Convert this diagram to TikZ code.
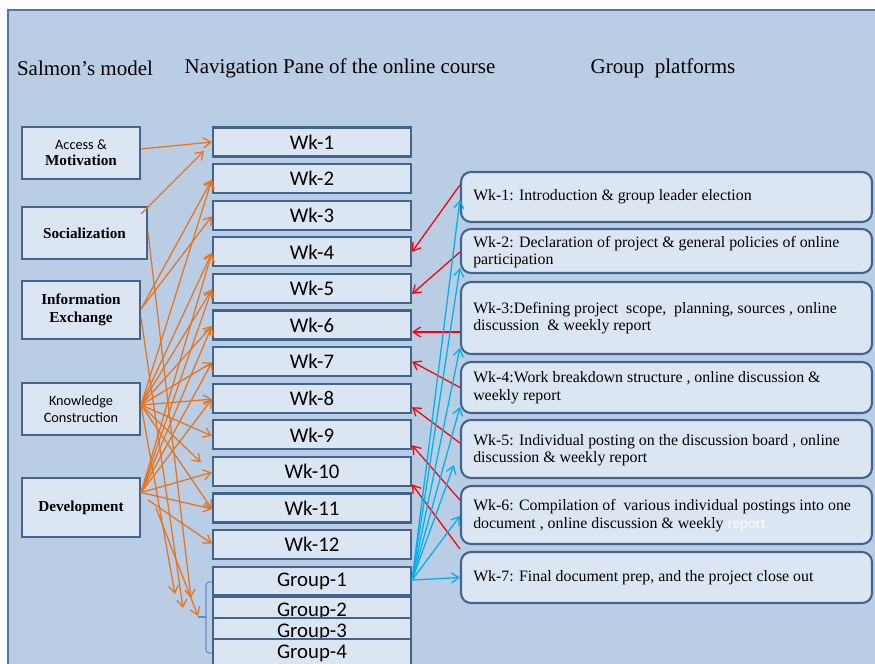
\documentclass[tikz,border=0pt]{standalone}
\usepackage{fontspec}
\setmainfont{Liberation Serif}
\newfontfamily\calib{Carlito}
\usetikzlibrary{arrows.meta,calc}
\definecolor{bg}{HTML}{B9CDE5}
\definecolor{boxfill}{HTML}{DCE6F2}
\definecolor{boxline}{HTML}{41658F}
\definecolor{orng}{HTML}{E8741E}
\definecolor{cyanarr}{HTML}{00B0F0}
\definecolor{brk}{HTML}{5F8FCB}
\definecolor{frame}{HTML}{4F76A8}
\begin{document}
\begin{tikzpicture}[x=0.75pt,y=-0.75pt,
  wkbox/.style={draw=boxline,fill=boxfill,line width=1.6pt,minimum width=148.5pt,minimum height=21.75pt,inner sep=0pt,font=\calib\fontsize{15.6}{18}\selectfont},
  grpbox/.style={wkbox,minimum height=21pt},
  lbox/.style={draw=boxline,fill=boxfill,line width=1.6pt,minimum width=88.5pt,minimum height=39pt,inner sep=0pt,align=center},
  rbox/.style={draw=boxline,fill=boxfill,line width=1.6pt,rounded corners=7.5pt,minimum width=308.25pt,inner sep=0pt},
  rtext/.style={anchor=west,align=left,inner sep=0pt,font=\fontsize{11.9}{13.1}\selectfont},
  serl/.style={font=\bfseries\fontsize{11.4}{13.5}\selectfont},
  hdr/.style={font=\fontsize{15.75}{18}\selectfont,inner sep=0pt},
  oarr/.style={draw=orng,line width=0.95pt,-{Straight Barb[length=5.5pt,width=7.5pt]}},
  rarr/.style={draw=red,line width=0.95pt,-{Straight Barb[length=5.5pt,width=7.5pt]}},
  barr/.style={draw=cyanarr,line width=0.95pt,-{Straight Barb[length=5.5pt,width=7.5pt]}}
]
\useasboundingbox (0,0) rectangle (875,664);
\clip (0,0) rectangle (875,664);
\fill[white] (0,0) rectangle (875,664);
\filldraw[fill=bg,draw=frame,line width=0.8pt] (8,10) rectangle (900,700);

% headers
\node[hdr] (h1) at (85,68) {Salmon’s model};
\node[hdr] (h2) at (340,68) {Navigation Pane of the online course};
\node[hdr] (h3) at (663,68) {Group\ \ platforms};

% left boxes
\node[lbox] (acc) at (81,153) {{\calib\fontsize{10.7}{13.5}\selectfont Access \&}\\{\bfseries\fontsize{11.4}{13.5}\selectfont Motivation}};
\node[lbox,minimum width=93.75pt,serl] (soc) at (84.5,233) {Socialization};
\node[lbox,minimum height=43.5pt,serl] (inf) at (81,310) {Information\\Exchange};
\node[lbox,font=\calib\fontsize{10.7}{12.5}\selectfont] (kno) at (81,409) {Knowledge\\Construction};
\node[lbox,minimum height=44.25pt,serl] (dev) at (81,507.5) {Development};

% week boxes
\foreach \i in {1,...,12}{
  \node[wkbox] (wk\i) at (312,{142+36.6*(\i-1)}) {Wk-\i};
}
\node[grpbox] (g1) at (312,581) {Group-1};
\node[grpbox] (g2) at (312,611) {Group-2};
\node[grpbox] (g3) at (312,632) {Group-3};
\node[grpbox] (g4) at (312,653) {Group-4};

% bracket
\draw[brk,line width=0.8pt,rounded corners=2.5pt] ([shift={(0,1)}]g1.west) -- (206,582) -- (206,653) -- (g4.west);
\draw[brk,line width=0.8pt] (206,617) -- (198,617);

% right boxes
\node[rbox,minimum height=37.5pt] (r1) at (666.5,197) {};
\node[rbox,minimum height=33pt] (r2) at (666.5,251) {};
\node[rbox,minimum height=54pt] (r3) at (666.5,318) {};
\node[rbox,minimum height=38.25pt] (r4) at (666.5,387.5) {};
\node[rbox,minimum height=43.5pt] (r5) at (666.5,449) {};
\node[rbox,minimum height=43.5pt] (r6) at (666.5,515) {};
\node[rbox,minimum height=38.25pt] (r7) at (666.5,577.5) {};

\node[rtext] (r1t) at (473,197) {Wk-1: Introduction \& group leader election};
\node[rtext] (r2t) at (473,252) {Wk-2: Declaration of project \& general policies of online\\participation};
\node[rtext] (r3t) at (473,318) {Wk-3:Defining project\ \ scope,\ \ planning, sources , online\\discussion\ \ \& weekly report};
\node[rtext] (r4t) at (473,387.5) {Wk-4:Work breakdown structure , online discussion \&\\weekly report};
\node[rtext] (r5t) at (473,450) {Wk-5: Individual posting on the discussion board , online\\discussion \& weekly report};
\node[rtext] (r6t) at (473,515.5) {Wk-6: Compilation of\ \ various individual postings into one\\document , online discussion \& weekly {\color{white}report}};
\node[rtext] (r7t) at (473,578) {Wk-7: Final document prep, and the project close out};

% free ends near the group bracket
\coordinate (t1) at (175,594);
\coordinate (t2) at (183,608);
\coordinate (t3) at (191,598);
\coordinate (t4) at (198,616);
\coordinate (k0) at ([shift={(0,-4)}]kno.east);
\coordinate (d0) at ([shift={(0,-15)}]dev.east);

% orange arrows
\draw[oarr] ([shift={(0,-4)}]acc.east) -- (wk1.west);
\draw[oarr] ([shift={(-7,8)}]soc.north east) -- ([shift={(-8,9)}]wk1.west);
\draw[oarr] (soc.east) -- (t3);
\draw[oarr] ([shift={(0,-1)}]inf.east) -- ([shift={(0,1)}]wk2.west);
\draw[oarr] ([shift={(0,-1)}]inf.east) -- ([shift={(0,1)}]wk3.west);
\draw[oarr] ([shift={(0,8)}]inf.east) -- (t2);
\foreach \w in {2,4,5,6,7,8,9,11}{
  \draw[oarr] (k0) -- ([shift={(0,1)}]wk\w.west);
}
\draw[oarr] (k0) -- ([shift={(-11,-9)}]wk10.west);
\draw[oarr] (k0) -- (t1);
\foreach \w in {4,5,6,7,8,10,11}{
  \draw[oarr] (d0) -- ([shift={(0,1)}]wk\w.west);
}
\draw[oarr] ([shift={(7,-7.5)}]dev.east) -- ([shift={(0,-1)}]wk12.west);
\draw[oarr] ([shift={(15,0.5)}]dev.east) -- (t4);

% red arrows
\draw[rarr] ([shift={(0,-12)}]r1.west) -- (wk4.east);
\draw[rarr] ([shift={(0,1)}]r2.west) -- ([shift={(0,5.5)}]wk5.east);
\draw[rarr] ([shift={(0,14)}]r3.west) -- ([shift={(0,7)}]wk6.east);
\draw[rarr] (r4.west) -- (wk7.east);
\draw[rarr] ([shift={(0,-6)}]r5.west) -- ([shift={(0,9)}]wk8.east);
\draw[rarr] ([shift={(0,-15)}]r6.west) -- ([shift={(0,10.5)}]wk9.east);
\draw[rarr] ([shift={(0,-2)}]r7.north west) -- ([shift={(0,13)}]wk10.east);

% blue arrows
\coordinate (gs) at ([shift={(0,-1)}]g1.east);
\draw[barr] (gs) -- ([shift={(0,3)}]r1.west);
\draw[barr] (gs) -- ([shift={(0,17)}]r2.west);
\draw[barr] (gs) -- ([shift={(0,30)}]r3.west);
\draw[barr] (gs) -- ([shift={(0,19.5)}]r4.west);
\draw[barr] (gs) -- ([shift={(-6,16)}]r5.west);
\draw[barr] (gs) -- ([shift={(0,1)}]r6.west);
\draw[barr] (gs) -- (r7.west);
\end{tikzpicture}
\end{document}
